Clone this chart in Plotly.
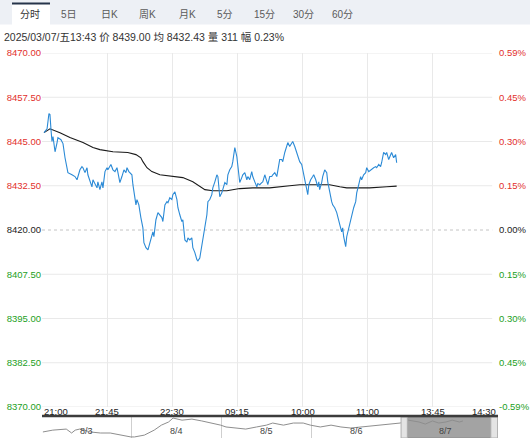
import plotly.graph_objects as go

# 分时: minutes since the 21:00 open (trading time, sessions glued together) -> price
price_points = [
    (1.4, 8447.5), (2.8, 8448.1), (3.5, 8448.6), (4.8, 8452.9), (5.5, 8452.6), (6.2, 8448.4),
    (6.9, 8445.0), (7.6, 8446.4), (9.0, 8442.1), (10.4, 8444.7), (11.0, 8446.1), (13.1, 8445.5),
    (14.5, 8444.4), (15.9, 8440.4), (17.9, 8436.2), (20.7, 8435.6), (22.8, 8435.1), (24.2, 8434.2),
    (26.2, 8437.0), (27.6, 8437.9), (28.3, 8437.6), (29.7, 8436.2), (31.1, 8437.6), (31.7, 8435.6),
    (33.1, 8433.6), (34.5, 8432.2), (35.2, 8434.2), (36.6, 8432.8), (38.0, 8431.9), (38.6, 8433.6),
    (40.0, 8431.4), (41.4, 8433.6), (42.1, 8431.9), (43.5, 8436.5), (44.9, 8437.6), (45.5, 8437.0),
    (47.6, 8438.5), (49.0, 8437.0), (50.4, 8436.5), (51.8, 8437.6), (53.8, 8433.4), (55.2, 8435.1),
    (56.6, 8437.0), (58.0, 8436.2), (58.7, 8437.6), (60.0, 8436.5), (62.1, 8435.6), (62.8, 8432.8),
    (64.9, 8427.1), (65.6, 8428.6), (66.9, 8427.1), (68.3, 8423.5), (69.7, 8420.6), (70.4, 8416.4),
    (71.8, 8415.0), (73.2, 8414.4), (74.5, 8416.6), (76.6, 8419.5), (77.3, 8418.1), (78.7, 8422.9),
    (80.1, 8424.9), (81.4, 8424.3), (82.8, 8423.5), (83.5, 8422.4), (84.9, 8427.1), (86.3, 8428.0),
    (87.0, 8427.7), (88.3, 8429.1), (89.7, 8428.6), (90.4, 8430.0), (91.8, 8430.8), (93.2, 8428.6),
    (93.9, 8426.3), (95.2, 8424.3), (96.6, 8422.4), (97.3, 8422.9), (98.0, 8420.1), (98.7, 8417.2),
    (100.1, 8416.6), (100.8, 8417.8), (102.1, 8417.2), (103.5, 8417.8), (104.2, 8415.0), (105.6, 8413.6),
    (107.0, 8411.6), (107.7, 8411.3), (109.0, 8412.1), (110.4, 8415.3), (111.1, 8417.8), (112.5, 8420.6),
    (113.9, 8424.3), (114.6, 8428.0), (115.9, 8428.6), (117.3, 8430.0), (118.0, 8431.9), (119.4, 8433.6),
    (120.8, 8435.6), (121.5, 8435.1), (122.8, 8429.4), (124.2, 8430.5), (124.9, 8431.4), (126.3, 8433.4),
    (127.7, 8432.8), (128.4, 8435.6), (129.7, 8437.0), (131.1, 8437.9), (131.8, 8439.3), (132.5, 8441.3),
    (133.2, 8443.3), (134.6, 8440.7), (135.3, 8438.5), (136.6, 8433.4), (138.0, 8434.8), (138.7, 8435.6),
    (140.1, 8436.2), (141.5, 8434.2), (142.2, 8435.1), (143.5, 8434.2), (144.9, 8436.5), (145.6, 8435.1),
    (147.0, 8433.6), (148.4, 8432.2), (149.1, 8433.1), (150.4, 8432.8), (151.8, 8433.4), (152.5, 8433.6),
    (153.9, 8435.6), (155.3, 8433.6), (156.0, 8432.8), (157.3, 8435.1), (158.7, 8435.1), (159.4, 8435.6),
    (160.8, 8436.2), (162.2, 8435.1), (162.9, 8437.0), (164.2, 8439.9), (165.6, 8439.9), (166.3, 8439.3),
    (167.7, 8441.9), (169.1, 8443.6), (169.8, 8444.7), (171.1, 8443.6), (172.5, 8444.7), (173.2, 8445.0),
    (174.6, 8443.6), (176.0, 8441.9), (176.7, 8441.3), (178.0, 8439.3), (179.4, 8438.5), (180.1, 8437.0),
    (181.5, 8434.2), (182.9, 8431.4), (183.6, 8430.0), (184.3, 8432.8), (185.6, 8434.2), (187.0, 8435.1),
    (187.7, 8435.6), (189.1, 8434.2), (190.5, 8432.2), (191.2, 8433.6), (191.8, 8431.4), (193.2, 8433.4),
    (193.9, 8435.1), (195.3, 8437.0), (196.7, 8436.2), (197.4, 8433.6), (198.7, 8430.5), (200.1, 8428.0),
    (200.8, 8427.1), (202.2, 8426.3), (203.6, 8424.9), (204.3, 8423.5), (205.7, 8421.5), (207.0, 8419.5),
    (207.7, 8420.6), (208.4, 8418.1), (209.8, 8415.3), (210.5, 8418.1), (211.9, 8420.6), (213.2, 8422.4),
    (213.9, 8424.3), (215.3, 8426.3), (216.7, 8428.0), (217.4, 8430.5), (218.8, 8432.8), (220.1, 8435.1),
    (220.8, 8434.2), (222.2, 8435.6), (223.6, 8436.2), (224.3, 8437.6), (225.7, 8436.5), (227.0, 8437.0),
    (227.7, 8437.0), (229.1, 8437.6), (230.5, 8437.9), (231.2, 8437.6), (232.6, 8438.5), (233.9, 8437.9),
    (234.6, 8439.0), (236.0, 8441.9), (237.4, 8441.3), (238.1, 8441.9), (239.5, 8439.9), (240.8, 8441.3),
    (241.5, 8441.9), (242.9, 8440.4), (244.3, 8441.3), (245.0, 8439.0),
]

# 均价 line
avg_points = [
    (1.4, 8447.5), (5.5, 8448.6), (12.4, 8447.5), (19.3, 8446.1), (28.3, 8444.7), (35.2, 8443.3),
    (40.0, 8442.7), (49.0, 8442.1), (59.3, 8441.9), (64.9, 8441.3), (68.3, 8440.4), (69.7, 8439.3),
    (72.5, 8437.6), (75.9, 8436.5), (81.4, 8435.6), (90.4, 8435.1), (97.3, 8434.8), (104.2, 8433.6),
    (109.0, 8432.2), (112.5, 8431.4), (118.0, 8431.1), (127.7, 8431.1), (136.6, 8431.7), (145.6, 8431.9),
    (157.3, 8431.9), (167.7, 8432.2), (171.1, 8432.5), (178.0, 8432.8), (187.0, 8432.8), (198.7, 8432.8),
    (205.7, 8432.2), (210.5, 8431.9), (217.4, 8431.9), (226.3, 8431.9), (238.1, 8432.2), (245.0, 8432.4),
]

prev_close = 8420.00
price_ticks = [8470.00, 8457.50, 8445.00, 8432.50, 8420.00, 8407.50, 8395.00, 8382.50, 8370.00]
pct_labels = ["0.59%", "0.45%", "0.30%", "0.15%", "0.00%", "0.15%", "0.30%", "0.45%", "-0.59%"]

time_ticks = [0, 45, 90, 135, 180, 225, 270, 315]
time_labels = ["21:00", "21:45", "22:30", "09:15", "10:00", "11:00", "13:45", "14:30"]

tabs = ["分时", "5日", "日K", "周K", "月K", "5分", "15分", "30分", "60分"]
info_text = "2025/03/07/五13:43 价 8439.00 均 8432.43 量 311 幅 0.23%"

# navigator: day index (0 = 8/3) -> price
nav_days = ["8/3", "8/4", "8/5", "8/6", "8/7"]
nav_points = [
    (0.01, 8403), (0.12, 8410), (0.27, 8414), (0.33, 8399), (0.37, 8410), (0.42, 8414), (0.54, 8403),
    (0.65, 8399), (0.76, 8399), (0.88, 8391), (0.99, 8384),
    (1.03, 8384), (1.14, 8391), (1.25, 8410), (1.33, 8429), (1.41, 8441), (1.46, 8456), (1.56, 8448),
    (1.67, 8452), (1.78, 8445), (1.90, 8437), (1.99, 8429),
    (2.05, 8422), (2.16, 8418), (2.27, 8414), (2.39, 8422), (2.50, 8429), (2.57, 8437), (2.69, 8429),
    (2.80, 8437), (2.91, 8437),
    (2.99, 8429), (3.10, 8422), (3.22, 8429), (3.33, 8422), (3.44, 8418), (3.55, 8422), (3.67, 8426),
    (3.78, 8429), (3.89, 8433), (3.99, 8437),
    (4.08, 8448), (4.20, 8441), (4.27, 8433), (4.35, 8445), (4.42, 8437), (4.50, 8441), (4.57, 8448),
    (4.65, 8441), (4.69, 8445),
]

RED, GREEN, BLACK = "#e2302c", "#23a023", "#222222"
FONT = "Liberation Sans, Arial, Noto Sans CJK SC, sans-serif"

W, H = 530, 438
L, R, T, B = 42, 32, 53, 0


def fx(px):
    return (px - L) / (W - L - R)


def fy(py):
    return (H - B - py) / (H - T - B)


def tone(p):
    return RED if p > prev_close else GREEN if p < prev_close else BLACK


minutes = [m for m, _ in price_points]
prices = [p for _, p in price_points]

fig = go.Figure()
fig.add_trace(go.Scatter(x=[m for m, _ in avg_points], y=[p for _, p in avg_points],
                         mode="lines", line=dict(color="#1a1a1a", width=1.1), hoverinfo="skip"))
fig.add_trace(go.Scatter(x=minutes, y=prices, mode="lines",
                         line=dict(color="#2b8ad6", width=1.1), hovertemplate="%{y:.2f}<extra></extra>"))
fig.add_trace(go.Scatter(x=minutes, y=prices, yaxis="y2", mode="lines", opacity=0,
                         hoverinfo="skip"))
fig.add_trace(go.Scatter(x=[d for d, _ in nav_points], y=[p for _, p in nav_points],
                         xaxis="x2", yaxis="y3", mode="lines",
                         line=dict(color="#8e8e8e", width=1), hoverinfo="skip"))

shapes = []
# horizontal grid, base line dotted
for p in price_ticks:
    shapes.append(dict(type="line", xref="x", yref="y", x0=0, x1=311, y0=p, y1=p, layer="below",
                       line=dict(color="#c4c4c4" if p == prev_close else "#e9e9e9", width=1,
                                 dash="dot" if p == prev_close else "solid")))
# navigator: selected day, handles, top bar
shapes += [
    dict(type="rect", xref="x2", yref="paper", x0=4.07, x1=5.0, y0=0, y1=fy(417),
         fillcolor="#a3a3a3", line=dict(color="#8a8a8a", width=1), layer="below"),
    dict(type="rect", xref="x2", yref="paper", x0=4.0, x1=4.07, y0=0, y1=fy(417),
         fillcolor="#e4e4e4", line=dict(color="#b0b0b0", width=1)),
    dict(type="rect", xref="x2", yref="paper", x0=5.0, x1=5.075, y0=0, y1=fy(417),
         fillcolor="#e4e4e4", line=dict(color="#b0b0b0", width=1)),
    dict(type="line", xref="paper", yref="paper", x0=0, x1=1, y0=fy(416), y1=fy(416),
         line=dict(color="#3c3c3c", width=2.5)),
    # tab bar
    dict(type="rect", xref="paper", yref="paper", x0=fx(0), x1=fx(W), y0=fy(24.5), y1=fy(0),
         fillcolor="#edf0f5", line=dict(width=0), layer="below"),
    dict(type="rect", xref="paper", yref="paper", x0=fx(12), x1=fx(50), y0=fy(25), y1=fy(3),
         fillcolor="#ffffff", line=dict(width=0), layer="below"),
    dict(type="line", xref="paper", yref="paper", x0=fx(12), x1=fx(50), y0=fy(3.5), y1=fy(3.5),
         line=dict(color="#26344a", width=2)),
]

annotations = []
tab_px = [30, 69, 109, 147, 187, 225, 264, 303, 342]
for name, px in zip(tabs, tab_px):
    annotations.append(dict(text=name, xref="paper", yref="paper", x=fx(px), y=fy(15),
                            showarrow=False, xanchor="center", yanchor="middle",
                            font=dict(size=10, color="#333" if name == "分时" else "#5a5a5a")))
annotations.append(dict(text=info_text, xref="paper", yref="paper", x=fx(2), y=fy(37),
                        showarrow=False, xanchor="left", yanchor="middle",
                        font=dict(size=10.5, color="#333")))
for i, (t, lab) in enumerate(zip(time_ticks, time_labels)):
    anchor = "left" if i == 0 else "right" if i == len(time_ticks) - 1 else "center"
    annotations.append(dict(text=lab, xref="x", yref="paper", x=t, y=fy(411), showarrow=False,
                            xanchor=anchor, yanchor="middle", font=dict(size=9.5, color="#222")))
for i, d in enumerate(nav_days):
    annotations.append(dict(text=d, xref="x2", yref="paper", x=i + 0.5, y=fy(431), showarrow=False,
                            xanchor="center", yanchor="middle", font=dict(size=9, color="#444")))

fig.update_layout(
    width=W, height=H,
    margin=dict(l=L, r=R, t=T, b=B, pad=0, autoexpand=False),
    paper_bgcolor="white", plot_bgcolor="white",
    font=dict(family=FONT, size=9.5, color="#222"),
    showlegend=False,
    shapes=shapes, annotations=annotations,
    xaxis=dict(domain=[0, 1], range=[0, 315], anchor="y", tickvals=time_ticks[1:-1],
               showticklabels=False, ticks="", ticklen=0, showgrid=True, gridcolor="#e9e9e9",
               zeroline=False, showline=False, fixedrange=True, automargin=False),
    yaxis=dict(domain=[fy(407), 1], range=[8370, 8470], anchor="x", tickvals=price_ticks,
               ticktext=[f"<span style='color:{tone(p)}'>{p:.2f}</span>" for p in price_ticks],
               ticks="", ticklen=0, showgrid=False, zeroline=False, showline=False,
               tickfont=dict(size=9.5), automargin=False),
    yaxis2=dict(overlaying="y", side="right", range=[8370, 8470], tickvals=price_ticks,
                ticktext=[f"<span style='color:{tone(p)}'>{s}</span>"
                          for p, s in zip(price_ticks, pct_labels)],
                ticks="", ticklen=0, showgrid=False, zeroline=False, showline=False,
                tickfont=dict(size=9.5), automargin=False),
    xaxis2=dict(domain=[0, 1], range=[0, 5.08], anchor="y3", tickvals=[0, 1, 2, 3, 4],
                showticklabels=False, ticks="", showgrid=True, gridcolor="#cfcfcf",
                zeroline=False, fixedrange=True, automargin=False),
    yaxis3=dict(domain=[0, fy(417)], range=[8380, 8460], anchor="x2", visible=False),
)

# page has a default 8px body margin; drop it so the figure sits at the window's corner
fig.write_html("out.html", config={"displayModeBar": False},
               post_script="document.body.style.margin='0px';")
